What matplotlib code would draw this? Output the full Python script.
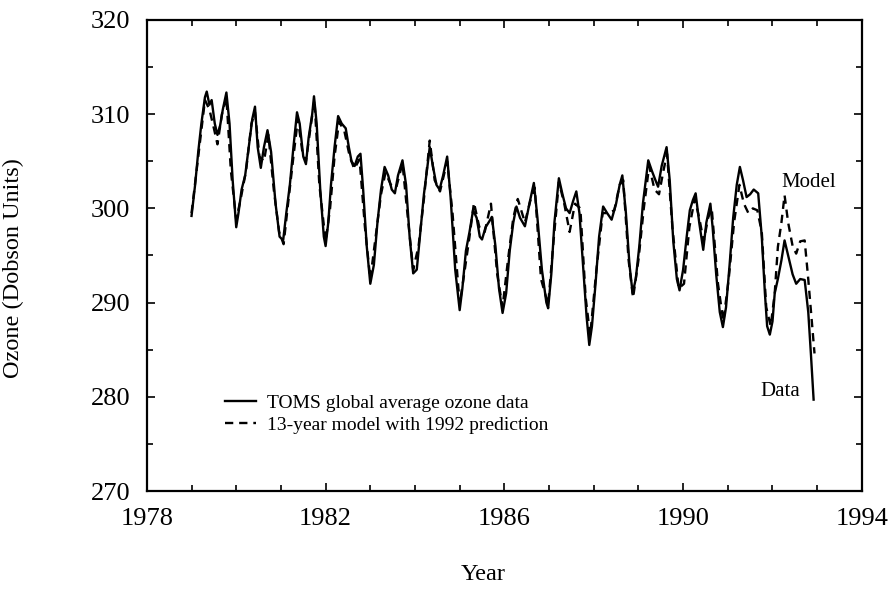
import matplotlib
matplotlib.use("Agg")
import matplotlib.pyplot as plt
from matplotlib.ticker import MultipleLocator

# ---- data ----
data_years = [
    1979.00, 1979.08, 1979.15, 1979.22, 1979.30, 1979.34, 1979.40, 1979.45, 1979.52, 1979.58,
    1979.64, 1979.70, 1979.78, 1979.85, 1979.92, 1980.00, 1980.05, 1980.12, 1980.20, 1980.28,
    1980.36, 1980.42, 1980.48, 1980.55, 1980.62, 1980.70, 1980.78, 1980.88, 1980.97, 1981.05,
    1981.12, 1981.20, 1981.28, 1981.36, 1981.42, 1981.50, 1981.56, 1981.62, 1981.70, 1981.74,
    1981.80, 1981.88, 1981.96, 1982.00, 1982.06, 1982.12, 1982.20, 1982.28, 1982.36, 1982.45,
    1982.52, 1982.58, 1982.65, 1982.72, 1982.78, 1982.84, 1982.92, 1983.00, 1983.08, 1983.16,
    1983.24, 1983.32, 1983.40, 1983.48, 1983.55, 1983.62, 1983.72, 1983.80, 1983.88, 1983.96,
    1984.04, 1984.12, 1984.20, 1984.28, 1984.33, 1984.40, 1984.48, 1984.55, 1984.63, 1984.72,
    1984.80, 1984.90, 1985.00, 1985.06, 1985.14, 1985.22, 1985.30, 1985.38, 1985.45, 1985.50,
    1985.58, 1985.66, 1985.72, 1985.80, 1985.88, 1985.96, 1986.04, 1986.12, 1986.20, 1986.27,
    1986.35, 1986.46, 1986.56, 1986.66, 1986.74, 1986.84, 1986.94, 1986.98, 1987.05, 1987.12,
    1987.22, 1987.30, 1987.38, 1987.46, 1987.54, 1987.61, 1987.68, 1987.76, 1987.84, 1987.90,
    1987.96, 1988.04, 1988.12, 1988.21, 1988.30, 1988.40, 1988.50, 1988.58, 1988.64, 1988.72,
    1988.80, 1988.87, 1988.94, 1989.02, 1989.10, 1989.22, 1989.30, 1989.38, 1989.44, 1989.52,
    1989.63, 1989.70, 1989.78, 1989.86, 1989.92, 1990.00, 1990.08, 1990.15, 1990.22, 1990.28,
    1990.36, 1990.45, 1990.52, 1990.61, 1990.66, 1990.74, 1990.82, 1990.89, 1990.96, 1991.04,
    1991.12, 1991.20, 1991.27, 1991.34, 1991.42, 1991.50, 1991.58, 1991.68, 1991.76, 1991.83,
    1991.88, 1991.94, 1992.00, 1992.05, 1992.12, 1992.20, 1992.27, 1992.35, 1992.45, 1992.53,
    1992.62, 1992.72, 1992.80, 1992.86, 1992.92,
]
data_ozone = [
    299.2, 302.5, 306.0, 309.0, 311.8, 312.4, 311.0, 311.5, 309.0, 307.8,
    308.8, 310.5, 312.3, 309.0, 303.0, 298.0, 299.5, 302.0, 303.5, 306.5,
    309.5, 310.8, 306.5, 304.3, 306.5, 308.3, 306.0, 300.5, 297.0, 296.6,
    299.5, 302.5, 306.5, 310.2, 309.0, 305.5, 304.7, 307.5, 310.0, 311.9,
    309.0, 302.0, 297.0, 296.0, 298.5, 302.5, 306.5, 309.8, 309.0, 308.5,
    306.5, 305.0, 304.5, 305.5, 305.8, 302.0, 296.0, 292.0, 294.0, 298.5,
    302.0, 304.4, 303.5, 302.0, 301.6, 303.5, 305.1, 302.5, 297.0, 293.1,
    293.5, 297.5, 301.5, 304.5, 306.5, 304.5, 302.5, 302.0, 303.5, 305.5,
    301.0, 293.5, 289.2, 291.5, 295.5, 297.5, 299.8, 299.0, 297.0, 296.7,
    298.0, 298.6, 299.1, 296.0, 291.5, 288.9, 291.0, 295.5, 298.5, 300.2,
    299.0, 298.1, 300.5, 302.7, 299.0, 293.5, 290.0, 289.4, 293.0, 298.5,
    303.2, 301.5, 300.0, 299.5, 300.8, 301.8, 299.5, 294.0, 288.5, 285.5,
    287.5, 292.0, 297.0, 300.2, 299.5, 298.8, 300.5, 302.5, 303.5, 299.5,
    294.0, 291.0, 292.5, 296.0, 300.5, 305.1, 304.0, 303.0, 302.3, 304.5,
    306.5, 303.0, 296.5, 292.5, 291.3, 293.5, 297.0, 299.8, 300.9, 301.6,
    298.5, 295.6, 298.5, 300.5, 298.0, 293.0, 289.0, 287.4, 289.5, 294.0,
    299.0, 302.5, 304.4, 303.0, 301.2, 301.5, 302.0, 301.6, 297.0, 291.0,
    287.5, 286.6, 288.0, 291.0, 292.5, 294.5, 296.6, 295.0, 293.0, 292.0,
    292.5, 292.4, 289.0, 284.5, 279.7,
]

model_years = [
    1979.00, 1979.10, 1979.20, 1979.30, 1979.40, 1979.50, 1979.58, 1979.68, 1979.78, 1979.88,
    1980.00, 1980.10, 1980.22, 1980.34, 1980.42, 1980.52, 1980.62, 1980.72, 1980.84, 1980.96,
    1981.06, 1981.16, 1981.28, 1981.38, 1981.48, 1981.56, 1981.66, 1981.75, 1981.86, 1982.00,
    1982.10, 1982.20, 1982.30, 1982.42, 1982.54, 1982.64, 1982.76, 1982.88, 1983.00, 1983.12,
    1983.24, 1983.34, 1983.46, 1983.58, 1983.72, 1983.84, 1983.96, 1984.08, 1984.20, 1984.33,
    1984.44, 1984.56, 1984.72, 1984.84, 1985.00, 1985.10, 1985.22, 1985.32, 1985.44, 1985.56,
    1985.70, 1985.84, 1985.96, 1986.08, 1986.20, 1986.30, 1986.46, 1986.58, 1986.68, 1986.82,
    1986.98, 1987.10, 1987.22, 1987.34, 1987.46, 1987.58, 1987.70, 1987.82, 1987.92, 1988.06,
    1988.20, 1988.34, 1988.46, 1988.58, 1988.66, 1988.78, 1988.88, 1989.00, 1989.12, 1989.24,
    1989.36, 1989.46, 1989.56, 1989.64, 1989.76, 1989.90, 1990.02, 1990.14, 1990.26, 1990.36,
    1990.46, 1990.56, 1990.64, 1990.78, 1990.90, 1991.02, 1991.14, 1991.26, 1991.36, 1991.46,
    1991.56, 1991.66, 1991.76, 1991.86, 1991.96, 1992.05, 1992.12, 1992.20, 1992.27, 1992.35,
    1992.45, 1992.53, 1992.62, 1992.72, 1992.80, 1992.88, 1992.94,
]
model_ozone = [
    299.5, 303.5, 307.5, 311.5, 310.5, 308.5, 306.8, 310.0, 311.8, 304.0,
    298.8, 301.0, 304.0, 309.0, 310.2, 305.5, 305.0, 307.8, 302.0, 297.5,
    296.2, 300.5, 305.5, 309.5, 306.0, 305.0, 308.5, 311.5, 302.5, 296.5,
    300.0, 305.5, 309.2, 308.2, 305.5, 304.2, 305.2, 298.0, 292.5, 297.0,
    301.5, 303.8, 302.5, 302.2, 304.8, 299.0, 293.5, 296.0, 301.0, 307.2,
    303.0, 301.8, 305.0, 299.5, 289.8, 293.0, 297.0, 300.6, 298.0, 297.5,
    300.5, 293.0, 289.5, 294.5, 299.0, 301.0, 298.5, 300.8, 302.2, 292.5,
    289.8, 296.5, 302.8, 300.5, 297.5, 300.5, 300.0, 290.5, 286.5, 293.5,
    299.5, 299.5, 299.8, 302.5, 303.0, 294.5, 290.5, 294.5, 300.0, 304.5,
    302.0, 301.5, 304.0, 305.8, 298.0, 291.5, 292.0, 298.0, 301.0, 299.0,
    296.5, 299.0, 300.0, 292.0, 288.0, 292.5, 298.5, 302.5, 300.5, 299.5,
    300.0, 299.8, 297.5, 289.5, 287.5, 291.0, 295.9, 298.5, 301.4, 298.5,
    296.0, 295.2, 296.5, 296.6, 292.5, 288.0, 284.6,
]

x_ticks = [1978, 1982, 1986, 1990, 1994]
y_ticks = [270, 280, 290, 300, 310, 320]

serif = ["Liberation Serif", "DejaVu Serif"]
plt.rcParams["font.family"] = serif

fig = plt.figure(figsize=(8.90, 5.91), dpi=100)
ax = fig.add_axes([0.165, 0.1692, 0.8034, 0.797])

ax.plot(data_years, data_ozone, color="black", lw=1.7, solid_joinstyle="round",
        label="TOMS global average ozone data", zorder=3)
ax.plot(model_years, model_ozone, color="black", lw=1.7, linestyle=(0, (3.5, 2.5)),
        label="13-year model with 1992 prediction", zorder=2)

ax.set_xlim(1978, 1994)
ax.set_ylim(270, 320)
ax.set_xticks(x_ticks)
ax.set_yticks(y_ticks)
ax.xaxis.set_minor_locator(MultipleLocator(1))
ax.yaxis.set_minor_locator(MultipleLocator(5))

ax.tick_params(which="both", direction="in", top=True, right=True, width=1.2,
               labelsize=19)
ax.tick_params(which="major", length=6)
ax.tick_params(which="minor", length=4)
ax.tick_params(axis="x", which="major", pad=12)
ax.tick_params(axis="y", which="major", pad=12)
for s in ax.spines.values():
    s.set_linewidth(1.6)

ax.set_xlabel("Year", fontsize=17.5)
ax.xaxis.set_label_coords(0.47, -0.155)
ax.xaxis.label.set_va("top")
ax.set_ylabel("Ozone (Dobson Units)", fontsize=17.5)
ax.yaxis.set_label_coords(-0.172, 0.473)

ax.text(1992.8, 302.8, "Model", fontsize=15, ha="center", va="center")
ax.text(1992.62, 280.6, "Data", fontsize=15, ha="right", va="center")

ax.legend(loc="upper left", bbox_to_anchor=(0.098, 0.222), frameon=False,
          fontsize=14, handlelength=1.6, handletextpad=0.55, labelspacing=0.25,
          borderaxespad=0)

fig.savefig("out.png", dpi=100)
